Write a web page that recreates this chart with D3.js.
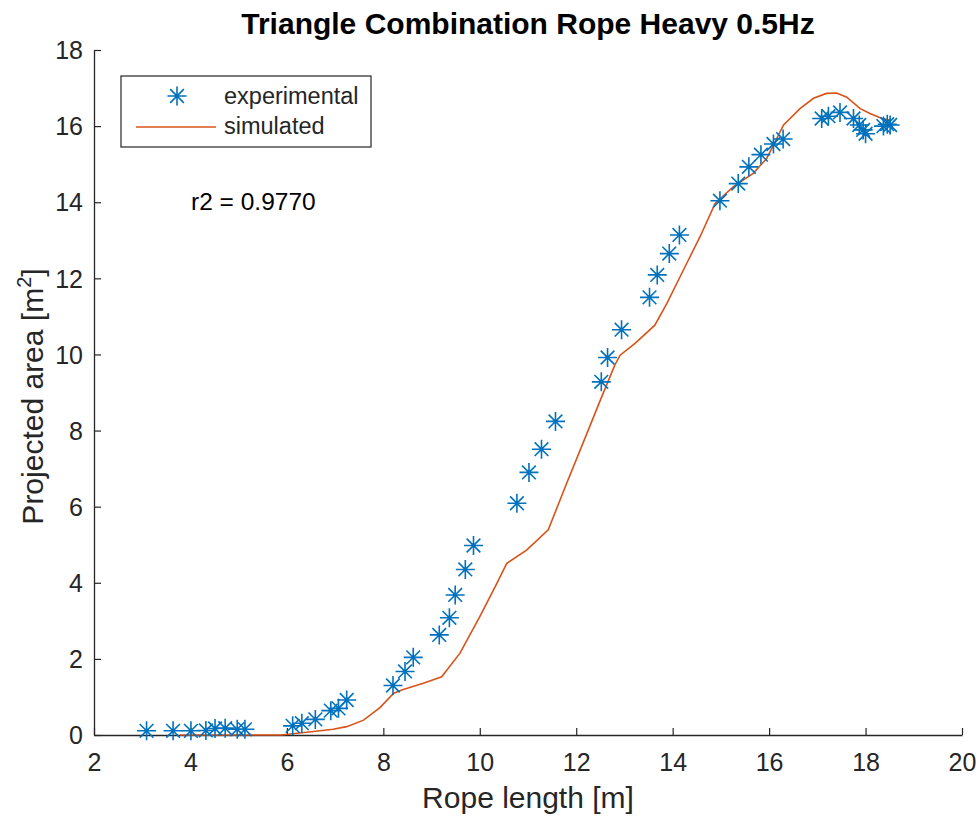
<!DOCTYPE html>
<html><head><meta charset="utf-8">
<script src="https://cdn.jsdelivr.net/npm/d3@7"></script>
<style>body{margin:0;background:#fff}svg{display:block}text{font-family:"Liberation Sans",Arial,sans-serif}</style>
</head><body>
<script>
const expX = [3.09,3.64,4.01,4.32,4.51,4.72,4.97,5.13,6.12,6.31,6.59,6.91,7.07,7.24,8.20,8.45,8.62,9.16,9.37,9.49,9.70,9.87,10.77,11.02,11.28,11.57,12.52,12.65,12.94,13.52,13.68,13.93,14.14,14.98,15.36,15.58,15.83,16.09,16.29,17.09,17.23,17.47,17.75,17.87,17.95,18.0,18.37,18.45,18.51];
const expY = [0.11,0.11,0.11,0.12,0.17,0.18,0.15,0.15,0.24,0.31,0.41,0.64,0.70,0.92,1.30,1.67,2.04,2.63,3.08,3.68,4.35,4.98,6.09,6.90,7.51,8.24,9.28,9.92,10.65,11.50,12.09,12.65,13.14,14.04,14.49,14.93,15.25,15.53,15.66,16.20,16.26,16.36,16.20,16.03,15.90,15.80,16.00,16.05,16.03];
const simX = [3.78,5.88,6.55,6.96,7.24,7.59,7.93,8.21,8.38,8.83,9.21,9.59,10.0,10.32,10.56,10.97,11.42,11.80,12.22,12.50,12.80,12.91,13.22,13.63,13.88,14.29,14.57,14.88,15.26,15.67,15.95,16.30,16.64,16.92,17.19,17.40,17.61,17.89,18.09,18.34,18.51];
const simY = [0.0,0.0,0.09,0.15,0.22,0.39,0.72,1.09,1.18,1.36,1.53,2.15,3.11,3.90,4.51,4.86,5.39,6.61,7.92,8.80,9.72,9.98,10.29,10.77,11.34,12.39,13.10,13.97,14.41,14.76,15.15,16.03,16.46,16.73,16.86,16.87,16.76,16.46,16.33,16.20,16.15];
const xTicks = [2,4,6,8,10,12,14,16,18,20];
const yTicks = [0,2,4,6,8,10,12,14,16,18];
const title = "Triangle Combination Rope Heavy 0.5Hz";
const xLabel = "Rope length [m]";
const r2Text = "r2 = 0.9770";

const W=980,H=817, L=94, R=962, T=50, B=735;
const axCol="#262626";
const svg=d3.select("body").append("svg").attr("width",W).attr("height",H);
const x=d3.scaleLinear().domain([2,20]).range([L,R]);
const y=d3.scaleLinear().domain([0,18]).range([B,T]);

// axes
const xa=svg.append("g").attr("transform",`translate(0,${B})`)
  .call(d3.axisBottom(x).tickValues(xTicks).tickSize(-7).tickSizeOuter(0).tickPadding(18));
const ya=svg.append("g").attr("transform",`translate(${L},0)`)
  .call(d3.axisLeft(y).tickValues(yTicks).tickSize(-7).tickSizeOuter(0).tickPadding(11));
[xa,ya].forEach(g=>{g.select(".domain").attr("stroke",axCol).attr("stroke-width",1.3);
 g.selectAll(".tick line").attr("stroke",axCol).attr("stroke-width",1.2);
 g.selectAll("text").attr("fill",axCol).style("font-size","25px").style("font-family","Liberation Sans, Arial, sans-serif");});
ya.selectAll("text").attr("dy","0.35em");

// simulated line
svg.append("path").datum(simX.map((v,i)=>[v,simY[i]]))
  .attr("fill","none").attr("stroke","#D95319").attr("stroke-width",1.6)
  .attr("d",d3.line().x(d=>x(d[0])).y(d=>y(d[1])));

function star(g,cx,cy,s){
  const a=s, b=s*0.72;
  g.append("path").attr("d",`M${cx-a},${cy}H${cx+a}M${cx},${cy-a}V${cy+a}M${cx-b},${cy-b}L${cx+b},${cy+b}M${cx-b},${cy+b}L${cx+b},${cy-b}`)
   .attr("stroke","#0072BD").attr("stroke-width",1.6).attr("fill","none");
}
const pts=svg.append("g");
expX.forEach((v,i)=>star(pts,x(v),y(expY[i]),9.5));

// title & labels
svg.append("text").attr("x",(L+R)/2).attr("y",34).attr("text-anchor","middle")
  .style("font-size","30px").style("font-weight","bold").attr("fill","#000").text(title);
svg.append("text").attr("x",(L+R)/2).attr("y",808).attr("text-anchor","middle")
  .style("font-size","30px").attr("fill",axCol).text(xLabel);
const yl=svg.append("text").attr("transform",`translate(43,${(T+B)/2+4}) rotate(-90)`).attr("text-anchor","middle")
  .style("font-size","30px").attr("fill",axCol);
yl.append("tspan").text("Projected area [m");
yl.append("tspan").attr("dy",-12).style("font-size","20px").text("2");
yl.append("tspan").attr("dy",12).text("]");

// legend
const lg=svg.append("g");
lg.append("rect").attr("x",121).attr("y",76).attr("width",250).attr("height",71)
  .attr("fill","#fff").attr("stroke",axCol).attr("stroke-width",1.2);
star(lg,177,96,9.5);
lg.append("line").attr("x1",136).attr("x2",216).attr("y1",127).attr("y2",127).attr("stroke","#D95319").attr("stroke-width",1.6);
lg.append("text").attr("x",224).attr("y",104).style("font-size","23.5px").attr("fill",axCol).text("experimental");
lg.append("text").attr("x",224).attr("y",134).style("font-size","23.5px").attr("fill",axCol).text("simulated");
svg.append("text").attr("x",191).attr("y",210).style("font-size","24.5px").attr("fill","#000").text(r2Text);
</script>
</body></html>
